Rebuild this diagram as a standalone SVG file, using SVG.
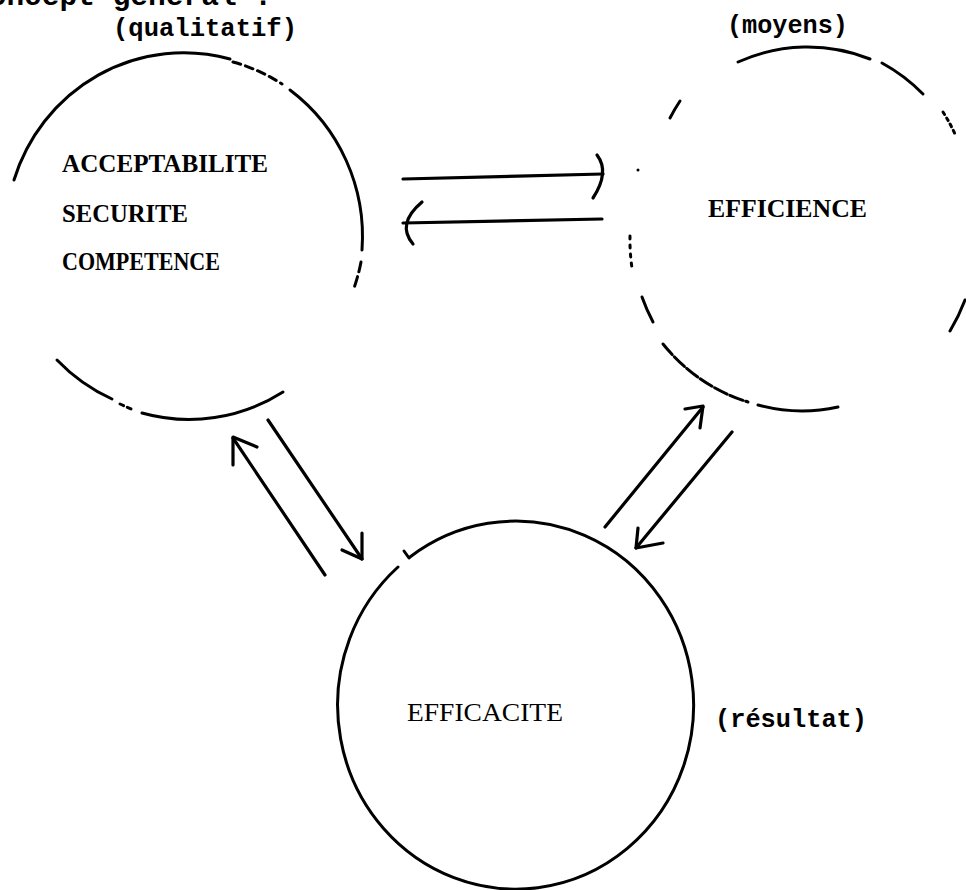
<svg xmlns="http://www.w3.org/2000/svg" width="966" height="890" viewBox="0 0 966 890">
<style>
.ring{fill:none;stroke:#000;stroke-width:3;stroke-linecap:round}
.arw{fill:none;stroke:#000;stroke-width:3.2;stroke-linecap:round;stroke-linejoin:round}
.t{font-family:"Liberation Mono","DejaVu Sans Mono",monospace;fill:#000}
.s{font-family:"Liberation Serif","DejaVu Serif",serif;fill:#000}
.b{font-weight:bold}
</style>
<rect width="966" height="890" fill="#fff"/>
<g id="labels">
<text class="t b" x="-29" y="5" font-size="29.5" textLength="301" lengthAdjust="spacingAndGlyphs">concept général :</text>
<text class="t b" x="113" y="36" font-size="25.5" textLength="184" lengthAdjust="spacingAndGlyphs">(qualitatif)</text>
<text class="t b" x="727" y="33" font-size="25" textLength="121" lengthAdjust="spacingAndGlyphs">(moyens)</text>
<text class="t b" x="715" y="727" font-size="25.3" textLength="152" lengthAdjust="spacingAndGlyphs">(résultat)</text>
</g>
<g id="node-qualite">
<path class="ring" d="M14,180 A178 182 0 0 1 230,59"/>
<path class="ring" d="M233,62 A178 182 0 0 1 282,84" stroke-dasharray="8 5"/>
<path class="ring" d="M290,90 A178 182 0 0 1 362,250"/>
<path class="ring" d="M361,262 A178 182 0 0 1 354,288" stroke-dasharray="10 5"/>
<path class="ring" d="M57,360 A178 182 0 0 0 112,399"/>
<path class="ring" d="M120,404 A178 182 0 0 0 134,410" stroke-dasharray="4 4"/>
<path class="ring" d="M142,413 A178 182 0 0 0 283,392"/>
<text class="s b" x="62" y="172" font-size="25" textLength="206" lengthAdjust="spacingAndGlyphs">ACCEPTABILITE</text>
<text class="s b" x="62" y="222" font-size="25" textLength="126" lengthAdjust="spacingAndGlyphs">SECURITE</text>
<text class="s b" x="62" y="270" font-size="25" textLength="158" lengthAdjust="spacingAndGlyphs">COMPETENCE</text>
</g>
<g id="node-efficience">
<path class="ring" d="M738,62 A175 182 0 0 1 870,59"/>
<path class="ring" d="M882,63 A175 182 0 0 1 923,94"/>
<path class="ring" d="M943,112 A175 182 0 0 1 955,134" stroke-dasharray="3 4"/>
<path class="ring" d="M965,300 A175 182 0 0 1 950,331"/>
<path class="ring" d="M680,101 A175 182 0 0 0 670,118" stroke-width="2"/>
<circle cx="638" cy="170" r="1.5" fill="#000"/>
<path class="ring" d="M630,236 A175 182 0 0 0 632,268" stroke-width="2" stroke-dasharray="3 6"/>
<path class="ring" d="M642,297 A175 182 0 0 0 653,322" stroke-width="2.4"/>
<path class="ring" d="M663,344 A175 182 0 0 0 748,402" stroke-dasharray="14 3"/>
<path class="ring" d="M758,405 A175 182 0 0 0 838,407"/>
<text class="s b" x="708" y="217" font-size="25.5" textLength="159" lengthAdjust="spacingAndGlyphs">EFFICIENCE</text>
</g>
<g id="node-efficacite">
<path class="ring" d="M410,557 A178 184 0 1 1 398,567"/>
<path class="ring" d="M404,551 L409,558"/>
<text class="s" x="407" y="721" font-size="25" textLength="156" lengthAdjust="spacingAndGlyphs">EFFICACITE</text>
</g>
<g id="connectors">
<path class="arw" d="M403,179 L603,174"/>
<path class="arw" d="M597,155 Q610,172 593,198"/>
<path class="arw" d="M602,219 L403,223"/>
<path class="arw" d="M422,202 Q396,224 413,244"/>
<path class="arw" d="M325,575 L233,438"/>
<path class="arw" d="M233,465 L233,437 L257,447"/>
<path class="arw" d="M268,420 L362,559"/>
<path class="arw" d="M362,533 L362,559 L342,550"/>
<path class="arw" d="M605,527 L703,407"/>
<path class="arw" d="M685,409 L703,406 L700,428"/>
<path class="arw" d="M732,432 L636,548"/>
<path class="arw" d="M638,528 L636,548 L663,543"/>
</g>
</svg>
